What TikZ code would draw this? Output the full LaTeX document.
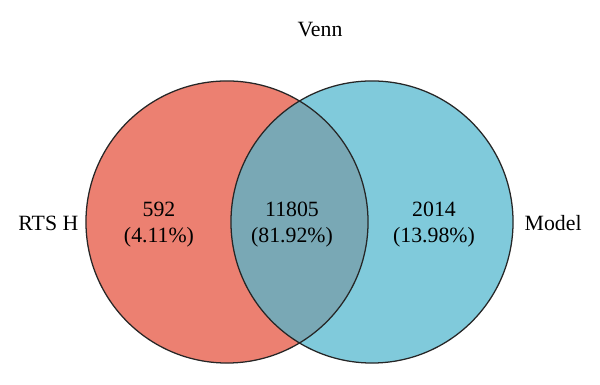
\documentclass[tikz,border=0pt]{standalone}
\usepackage{fontspec}
\setmainfont{Liberation Serif}
\usepackage{xcolor}
\usetikzlibrary{positioning}
\definecolor{rtsred}{RGB}{236,128,113}
\definecolor{modelblue}{RGB}{128,202,219}
\definecolor{bothteal}{RGB}{121,168,181}
\tikzset{
    setlabel/.style={font=\fontsize{15.5}{18.5}\selectfont, align=center, inner sep=1pt},
    setedge/.style={draw=black!85, line width=0.9pt}
}

\begin{document}
\begin{tikzpicture}[x=0.025cm, y=0.025cm]
\useasboundingbox (0,0) rectangle (600,385);
% Set circles
\fill[rtsred] (227,163) circle (3.525cm);
\fill[modelblue] (372,163) circle (3.525cm);
\begin{scope}
    \clip (227,163) circle (3.525cm);
    \fill[bothteal] (372,163) circle (3.525cm);
\end{scope}
\draw[setedge] (227,163) circle (3.525cm);
\draw[setedge] (372,163) circle (3.525cm);

% Counts
\node[setlabel] (onlyrts) at (159,160) {592\\(4.11\%)};
\node[setlabel] (both) at (292,160) {11805\\(81.92\%)};
\node[setlabel] (onlymodel) at (434,160) {2014\\(13.98\%)};

% Set names and title
\node[setlabel, anchor=east] (rtsname) at (80,162) {RTS H};
\node[setlabel, anchor=west] (modelname) at (523,162) {Model};
\node[setlabel] (title) at (320,355) {Venn};
\end{tikzpicture}
\end{document}
